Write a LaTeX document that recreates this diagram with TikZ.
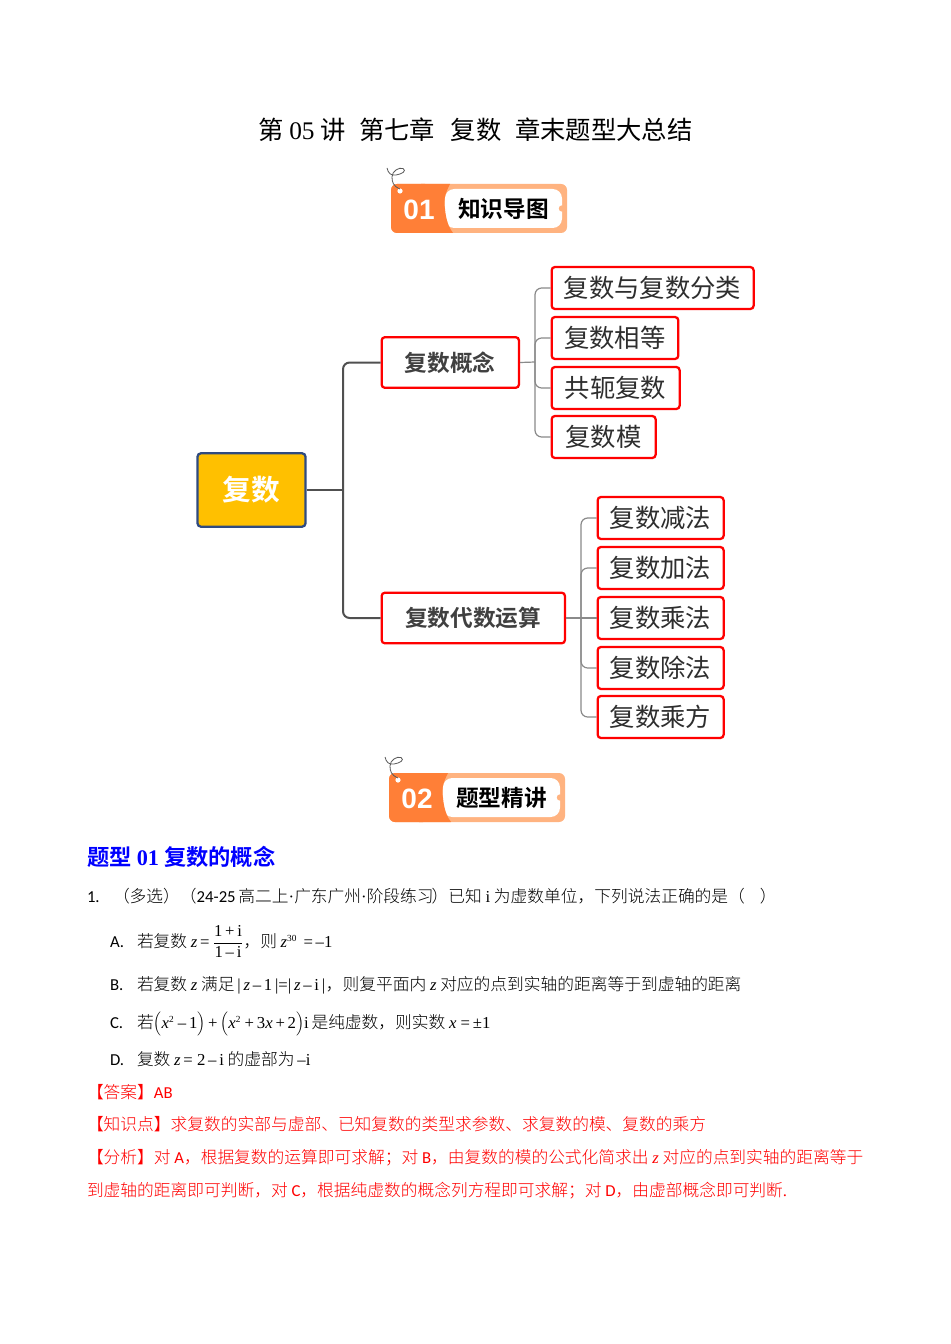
\documentclass[tikz,border=0pt]{standalone}
\usepackage{fontspec}
\setmainfont{Noto Sans CJK SC Light}
\newfontfamily\cnb{Noto Sans CJK SC Bold}
\newfontfamily\cnr{Noto Sans CJK SC}
\newfontfamily\lat{Carlito}
\newfontfamily\tm{Liberation Serif}
\newfontfamily\badgefont{Liberation Sans}
\newcommand{\zv}{{\tm\itshape z}}
\newcommand{\xv}{{\tm\itshape x}}
\newcommand{\supn}[1]{\raisebox{4.5pt}{\tm\fontsize{7}{8}\selectfont #1}}
\newcommand{\fracpart}[1]{\hbox{\tm\fontsize{12.5}{14}\selectfont #1}}
\newcommand{\lowr}[2]{\raisebox{-#1pt}{#2}}
\definecolor{orangeA}{HTML}{FF7F37}
\definecolor{peachA}{HTML}{FFB380}
\definecolor{lineA}{HTML}{505050}
\definecolor{lineB}{HTML}{8A8A8A}
\definecolor{rootF}{HTML}{FFC000}
\definecolor{rootB}{HTML}{2F4A80}
\tikzset{
  x=0.75pt,y=-0.75pt,
  txt/.style={anchor=base west,inner sep=0pt,outer sep=0pt,font=\fontsize{12.55}{14}\selectfont},
  redtxt/.style={txt,text=red},
  box/.style={draw=red,line width=1.7pt,rounded corners=2.5pt,fill=white,inner sep=0pt,minimum height=31.5pt,anchor=west,text=black!82},
  childbox/.style={box,font=\cnr\fontsize{19}{22}\selectfont,align=left},
  midbox/.style={box,font=\cnb\fontsize{17}{20}\selectfont,minimum height=38pt,text=black!75},
  rootbox/.style={draw=rootB,line width=1.7pt,rounded corners=2.5pt,fill=rootF,text=white,font=\cnb\fontsize{21.5}{25}\selectfont,inner sep=0pt},
  trunk/.style={draw=lineA,line width=1.5pt,rounded corners=5pt},
  twig/.style={draw=lineB,line width=0.9pt,rounded corners=5pt},
}
\newcommand{\badge}[5]{%
\begin{scope}[shift={(#1,#2)}]
  \fill[peachA,rounded corners=4.5pt] (0,0) rectangle (176,49);
  \fill[white,rounded corners=7pt] (54,5) rectangle (171,44);
  \fill[peachA] (171,24.5) circle[radius=3.2];
  \fill[orangeA,rounded corners=4.5pt] (0,0) -- (40,0) -- (40,49) -- (0,49) -- cycle;
  \fill[orangeA] (30,0) -- (59,0) .. controls (54,10) and (52,16) .. (54,25) .. controls (55,36) and (58,44) .. (62,49) -- (30,49) -- cycle;
  \fill[white] (9,7) circle[radius=2.6];
  \draw[black!65,line width=0.6pt] (-4,-16) .. controls (-3,-11) and (0,-8) .. (5,-9) .. controls (11,-10) and (16,-13) .. (12,-15.5) .. controls (8,-17) and (1,-13) .. (1,-7) .. controls (1,-2) and (2,2) .. (9,5);
  \node[anchor=center,inner sep=0pt,text=white,font=\badgefont\bfseries\fontsize{21}{24}\selectfont] (#3) at (28,26) {#4};
  \node[anchor=west,inner sep=0pt,text=black,font=\cnb\fontsize{17}{20}\selectfont] (#3t) at (67,25) {#5};
\end{scope}}
\begin{document}
\begin{tikzpicture}
\useasboundingbox (0,0) rectangle (950,1344);
\fill[white] (0,0) rectangle (950,1344);

\node[anchor=base west,inner sep=0pt,font=\cnr\fontsize{19}{22}\selectfont] (title) at (258,139.5) {第 {\tm 05} 讲\hspace{6pt} 第七章\hspace{7.5pt} 复数\hspace{6pt} 章末题型大总结};

\badge{391}{184}{ba}{01}{知识导图}
\badge{389}{773}{bb}{02}{题型精讲}

% mind map
\node[rootbox,minimum width=81pt,minimum height=55pt] (root) at (251.5,490) {\lowr{3}{复数}};
\node[midbox,minimum width=103pt] (c1) at (380.5,362.5) {复数概念};
\node[midbox,minimum width=137.5pt] (c2) at (380.5,618) {复数代数运算};
\node[childbox,minimum width=151.5pt] (a1) at (550.5,288) {\lowr{1.5}{复数与复数分类}};
\node[childbox,minimum width=95pt] (a2) at (550.5,338) {\lowr{1.5}{复数相等}};
\node[childbox,minimum width=96pt] (a3) at (550.5,388) {\lowr{1.5}{共轭复数}};
\node[childbox,minimum width=78pt] (a4) at (550.5,437) {\lowr{1.5}{复数模}};
\node[childbox,minimum width=94.5pt] (b1) at (596.5,518) {\lowr{1.5}{复数减法}};
\node[childbox,minimum width=94.5pt] (b2) at (596.5,568) {\lowr{1.5}{复数加法}};
\node[childbox,minimum width=94.5pt] (b3) at (596.5,618) {\lowr{1.5}{复数乘法}};
\node[childbox,minimum width=94.5pt] (b4) at (596.5,668) {\lowr{1.5}{复数除法}};
\node[childbox,minimum width=94.5pt] (b5) at (596.5,717) {\lowr{1.5}{复数乘方}};

\coordinate (sp) at (343,490);
\coordinate (ja) at (535,362);
\coordinate (jb) at (581,618);
\draw[trunk] (root.east) -- (sp);
\draw[trunk] (c1.west) -| (sp) |- (c2.west);
\draw[twig] (c1.east) -- (ja);
\draw[twig] (c2.east) -- (jb);
\draw[twig] (a1.west) -| (ja) |- (a4.west);
\draw[twig] (a2.west) -| (ja);
\draw[twig] (a3.west) -| (ja);
\draw[twig] (b1.west) -| (jb) |- (b5.west);
\draw[twig] (b2.west) -| (jb);
\draw[twig] (b3.west) -- (jb);
\draw[twig] (b4.west) -| (jb);

% text
\node[anchor=base west,inner sep=0pt,text=blue,font=\cnb\fontsize{16.7}{20}\selectfont] (h1) at (87,865) {题型 {\tm\bfseries 01} 复数的概念};

\node[txt] (q0) at (87,902) {\lat 1.};
\node[txt] (q1) at (113,902) {（多选）（{\lat 24-25}\hspace{-0.7pt} 高二上{\tm ·}广东广州{\tm ·}阶段练习\hspace{-1.5pt}）已知 {\tm i} 为虚数单位，下列说法正确的是（\hspace{0.9em}）};

\node[txt] (oa) at (110,947) {\lat A.};
\node[txt] (oa1) at (137,947) {若复数 \zv\,{\tm =\,}$\displaystyle\frac{\fracpart{1\,+\,i}}{\fracpart{1\,–\,i}}$，则 \zv\supn{30}\,{\tm\ =\,–1}};

\node[txt] (ob) at (110,990) {\lat B.};
\node[txt] (ob1) at (137,990) {若复数 \zv\ 满足{\tm\,|\,}\zv{\tm\,–\,1\,|=|\,}\zv{\tm\,–\,i\,|}\hspace{0.5pt}，则复平面内 \zv\ 对应的点到实轴的距离等于到虚轴的距离};

\node[txt] (oc) at (110,1028) {\lat C.};
\node[txt] (oc1) at (137,1028) {若$\Bigl(\hbox{\xv\supn{2}\tm\ –\,1}\Bigr)$\hbox{\tm\,+\,}$\Bigl(\hbox{\xv\supn{2}\tm\ +\,3\xv\,+\,2}\Bigr)$\hbox{\tm i\,}是纯虚数，则实数 \xv{\tm\ =\,±1}};

\node[txt] (od) at (110,1065) {\lat D.};
\node[txt] (od1) at (137,1065) {复数 \zv\,{\tm = 2\,–\,i} 的虚部为{\tm\,–i}};

\node[redtxt] (r1) at (87,1098) {【答案】{\lat AB}};
\node[redtxt] (r2) at (87,1130) {【知识点】求复数的实部与虚部、已知复数的类型求参数、求复数的模、复数的乘方};
\node[redtxt] (r3) at (87,1163) {【分析】对 {\lat A}，根据复数的运算即可求解；对 {\lat B}，由复数的模的公式化简求出 \zv\ 对应的点到实轴的距离等于};
\node[redtxt] (r4) at (87,1196) {到虚轴的距离即可判断，对 {\lat C}，根据纯虚数的概念列方程即可求解；对 {\lat D}，由虚部概念即可判断{\tm .}};
\end{tikzpicture}
\end{document}
